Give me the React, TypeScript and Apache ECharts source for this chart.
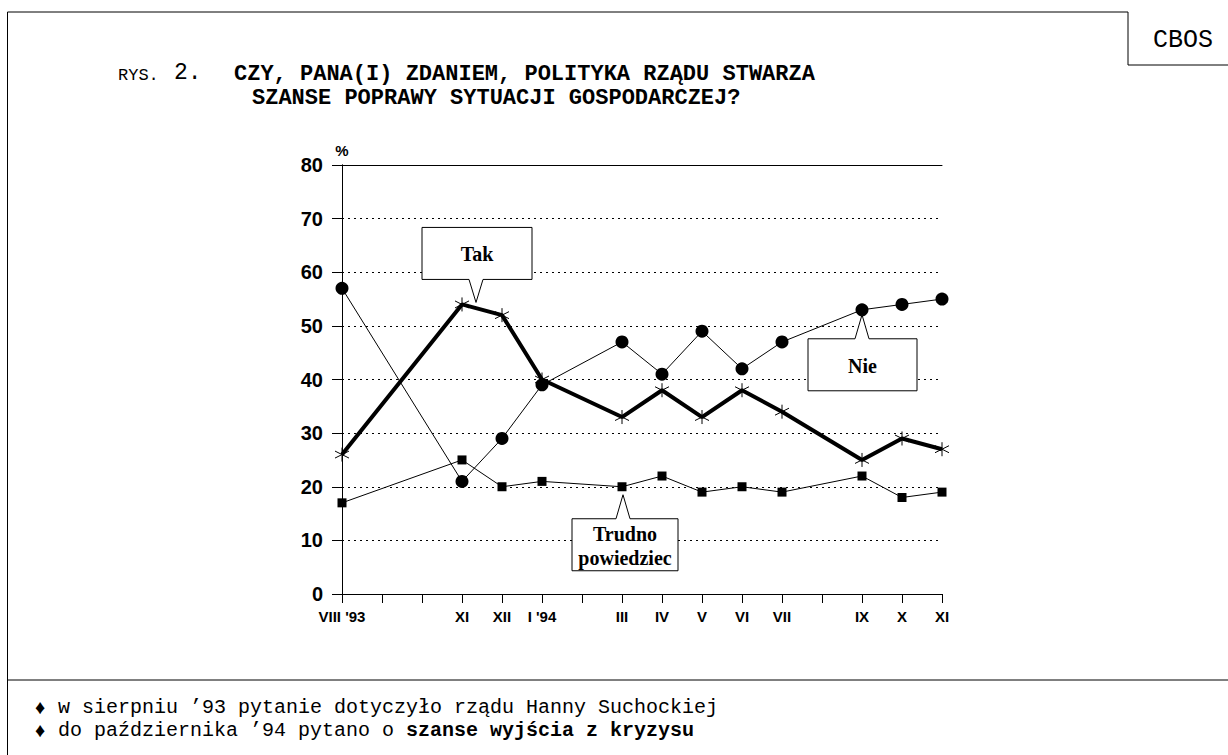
import React, { useEffect, useRef } from "react";
import * as echarts from "echarts";

const months = ["VIII '93", "IX", "X", "XI", "XII", "I '94", "II", "III", "IV", "V", "VI", "VII", "VIII", "IX", "X", "XI"];
const monthLabels = ["VIII '93", "", "", "XI", "XII", "I '94", "", "III", "IV", "V", "VI", "VII", "", "IX", "X", "XI"];
const takValues = [26, null, null, 54, 52, 40, null, 33, 38, 33, 38, 34, null, 25, 29, 27];
const nieValues = [57, null, null, 21, 29, 39, null, 47, 41, 49, 42, 47, null, 53, 54, 55];
const trudnoValues = [17, null, null, 25, 20, 21, null, 20, 22, 19, 20, 19, null, 22, 18, 19];
const yTicks = [0, 10, 20, 30, 40, 50, 60, 70, 80];

const titleLine1 = "CZY, PANA(I) ZDANIEM, POLITYKA RZĄDU STWARZA";
const titleLine2 = "SZANSE POPRAWY SYTUACJI GOSPODARCZEJ?";
const note1 = "w sierpniu ’93 pytanie dotyczyło rządu Hanny Suchockiej";
const note2a = "do października ’94 pytano o ";
const note2b = "szanse wyjścia z kryzysu";

const toPairs = (vals: (number | null)[]) =>
  vals.map((v, i) => (v == null ? null : [i, v])).filter((p) => p !== null);

const MONO = "'Liberation Mono', 'Courier New', monospace";
const SANS = "'Liberation Sans', Arial, sans-serif";
const SERIF = "'Liberation Serif', 'Times New Roman', serif";

export default function App() {
  const ref = useRef<HTMLDivElement>(null);
  useEffect(() => {
    if (!ref.current) return;
    const chart = echarts.init(ref.current, null, { renderer: "svg" });
    const line = (id: string, x1: number, y1: number, x2: number, y2: number) => ({
      type: "line", id, z: 50,
      shape: { x1, y1, x2, y2 },
      style: { stroke: "#000", lineWidth: 1 },
    });
    const option: any = {
      animation: false,
      backgroundColor: "#fff",
      grid: { left: 342, right: 286, top: 165, bottom: 161, containLabel: false },
      xAxis: [
        {
          type: "value", min: 0, max: months.length - 1, interval: 1,
          axisLine: { show: true, onZero: false, lineStyle: { color: "#000", width: 1 } },
          axisTick: { show: true, length: 9, lineStyle: { color: "#000" } },
          axisLabel: {
            show: true, margin: 15, color: "#000",
            fontFamily: SANS, fontWeight: "bold", fontSize: 15,
            formatter: (v: number) => monthLabels[Math.round(v)] ?? "",
          },
          splitLine: { show: false },
        },
        {
          type: "value", position: "top", min: 0, max: months.length - 1,
          axisLine: { show: true, onZero: false, lineStyle: { color: "#000", width: 1 } },
          axisTick: { show: false }, axisLabel: { show: false }, splitLine: { show: false },
        },
      ],
      yAxis: [
        {
          type: "value", min: yTicks[0], max: yTicks[yTicks.length - 1], interval: 10,
          axisLine: { show: true, lineStyle: { color: "#000", width: 1 } },
          axisTick: { show: true, length: 10, lineStyle: { color: "#000" } },
          axisLabel: { margin: 19, color: "#000", fontFamily: SANS, fontWeight: "bold", fontSize: 20 },
          splitLine: { show: true, lineStyle: { color: "#000", width: 1, type: [2, 4] } },
        },
        {
          type: "value", position: "right", min: 0, max: 80,
          axisLine: { show: true, lineStyle: { color: "#000", width: 1 } },
          axisTick: { show: false }, axisLabel: { show: false }, splitLine: { show: false },
        },
      ],
      series: [
        {
          name: "Trudno powiedziec", type: "line", data: toPairs(trudnoValues),
          symbol: "rect", symbolSize: 9, showAllSymbol: true,
          lineStyle: { color: "#000", width: 1 },
          itemStyle: { color: "#000" }, z: 3,
        },
        {
          name: "Nie", type: "line", data: toPairs(nieValues),
          symbol: "circle", symbolSize: 13, showAllSymbol: true,
          lineStyle: { color: "#000", width: 1 },
          itemStyle: { color: "#000" }, z: 4,
        },
        {
          name: "Tak", type: "line", data: toPairs(takValues),
          symbol: "path://M10 0 L10 20 M1 5 L19 15 M1 15 L19 5", symbolSize: 14, showAllSymbol: true,
          lineStyle: { color: "#000", width: 4 },
          itemStyle: { color: "rgba(0,0,0,0)", borderColor: "#000", borderWidth: 1 }, z: 5,
        },
      ],
      graphic: [
        line("frameLeft", 7.5, 12, 7.5, 755),
        line("frameTop", 7.5, 12, 1128, 12),
        line("cbosLeft", 1128, 12, 1128, 65),
        line("cbosBottom", 1128, 65, 1228, 65),
        line("footerSep", 7.5, 680, 1228, 680),
        { type: "text", id: "cbos", x: 1183, y: 40, z: 50,
          style: { text: "CBOS", font: `25px ${MONO}`, fill: "#000", textAlign: "center", textVerticalAlign: "middle" } },
        { type: "text", id: "rys", x: 118, y: 75, z: 50,
          style: { text: "RYS.", font: `17px ${MONO}`, fill: "#000", textAlign: "left", textVerticalAlign: "middle" } },
        { type: "text", id: "rys2", x: 174, y: 73, z: 50,
          style: { text: "2.", font: `23px ${MONO}`, fill: "#000", textAlign: "left", textVerticalAlign: "middle" } },
        { type: "text", id: "t1", x: 234, y: 74, z: 50,
          style: { text: titleLine1, font: `bold 22px ${MONO}`, fill: "#000", textAlign: "left", textVerticalAlign: "middle" } },
        { type: "text", id: "t2", x: 252, y: 98, z: 50,
          style: { text: titleLine2, font: `bold 22px ${MONO}`, fill: "#000", textAlign: "left", textVerticalAlign: "middle" } },
        { type: "text", id: "pct", x: 342, y: 150, z: 50,
          style: { text: "%", font: `bold 15px ${SANS}`, fill: "#000", textAlign: "center", textVerticalAlign: "middle" } },
        { type: "text", id: "n1d", x: 40, y: 707, z: 50,
          style: { text: "♦", font: `20px ${SERIF}`, fill: "#000", textAlign: "center", textVerticalAlign: "middle" } },
        { type: "text", id: "n1", x: 58, y: 707, z: 50,
          style: { text: note1, font: `20px ${MONO}`, fill: "#000", textAlign: "left", textVerticalAlign: "middle" } },
        { type: "text", id: "n2d", x: 40, y: 730, z: 50,
          style: { text: "♦", font: `20px ${SERIF}`, fill: "#000", textAlign: "center", textVerticalAlign: "middle" } },
        { type: "text", id: "n2", x: 58, y: 730, z: 50,
          style: {
            text: `{r|${note2a}}{b|${note2b}}`, textAlign: "left", textVerticalAlign: "middle",
            rich: {
              r: { font: `20px ${MONO}`, fill: "#000" },
              b: { font: `bold 20px ${MONO}`, fill: "#000" },
            },
          } },
      ],
    };
    chart.setOption(option);

    const px = (xi: number, v: number) => chart.convertToPixel({ seriesIndex: 0 }, [xi, v]) as number[];
    const callout = (id: string, label: string, tip: number[], below: boolean, fontSize: number, w1: number, w2: number) => {
      const [tx, ty] = tip;
      const L = tx - w1, R = tx + w2;
      let pts: number[][];
      let T: number, B: number;
      if (below) {
        T = ty + 24; B = ty + 76;
        pts = [[L, T], [tx - 7, T], [tx, ty], [tx + 7, T], [R, T], [R, B], [L, B]];
      } else {
        T = ty - 75; B = ty - 23;
        pts = [[L, T], [R, T], [R, B], [tx + 7, B], [tx, ty], [tx - 7, B], [L, B]];
      }
      return [
        { type: "polygon", id: id + "Box", z: 100, shape: { points: pts },
          style: { fill: "#fff", stroke: "#000", lineWidth: 1 } },
        { type: "text", id: id + "Txt", z: 101, x: (L + R) / 2, y: (T + B) / 2 + 1,
          style: { text: label, font: `bold ${fontSize}px ${SERIF}`, fill: "#000", textAlign: "center", textVerticalAlign: "middle", lineHeight: 24 } },
      ];
    };
    const takIdx = 3, nieIdx = 13, trIdx = 7;
    const pTak = px(takIdx, takValues[takIdx] as number);
    const pNie = px(nieIdx, nieValues[nieIdx] as number);
    const pTr = px(trIdx, trudnoValues[trIdx] as number);
    chart.setOption({
      graphic: [
        ...callout("tak", "Tak", [pTak[0] + 14, pTak[1] - 2], false, 20, 54, 56),
        ...callout("nie", "Nie", [pNie[0], pNie[1] + 5], true, 20, 54, 55),
        ...callout("tr", "Trudno\npowiedziec", [pTr[0] + 1, pTr[1] + 8], true, 20, 51, 55),
      ],
    });
    return () => chart.dispose();
  }, []);
  return <div ref={ref} style={{ position: "fixed", left: 0, top: 0, width: 1228, height: 755, background: "#fff" }} />;
}
